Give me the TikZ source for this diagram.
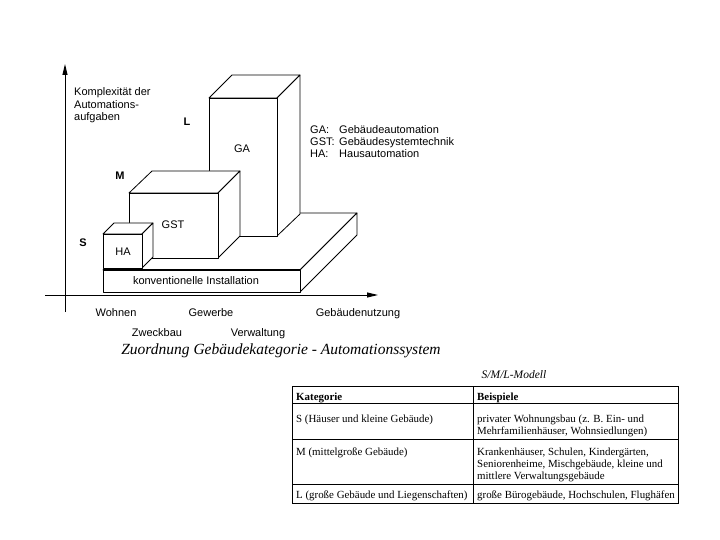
\documentclass[tikz,border=0pt]{standalone}
\usepackage{fontspec}
\setmainfont{Liberation Serif}
\setsansfont{Liberation Sans}
\usetikzlibrary{arrows.meta}
\begin{document}
\begin{tikzpicture}[x=1pt,y=-1pt,
  face/.style={draw=black,fill=white,line width=0.8pt,line join=round},
  axis/.style={draw=black,line width=1pt,-{Triangle[length=11pt,width=5pt]}},
  lbl/.style={font=\sffamily\fontsize{11}{12.5}\selectfont,inner sep=0pt},
  blbl/.style={font=\sffamily\bfseries\fontsize{11}{12.5}\selectfont,inner sep=0pt},
  tbl/.style={font=\fontsize{10.9}{12}\selectfont,inner sep=0pt,anchor=base west},
  tblb/.style={font=\bfseries\fontsize{10.9}{12}\selectfont,inner sep=0pt,anchor=base west},
  rule/.style={draw=black,line width=0.8pt}
]
\useasboundingbox (0,0) rectangle (720,540);

% axes
\draw[axis] (65,312) -- (65,64);
\draw[axis] (45,295) -- (378,295);

% platform
\draw[face] (103,270) -- (300,270) -- (357,213) -- (160,213) -- cycle;
\draw[face] (300,270) -- (357,213) -- (357,235) -- (300,292) -- cycle;
\draw[face] (103,270) rectangle (300,292);

% GA box
\draw[face] (209,98) -- (277,98) -- (300,75) -- (232,75) -- cycle;
\draw[face] (277,98) -- (300,75) -- (300,214) -- (277,236) -- cycle;
\draw[face] (209,98) rectangle (277,236);

% GST box
\draw[face] (129,193) -- (218,193) -- (240,171) -- (152,171) -- cycle;
\draw[face] (218,193) -- (240,171) -- (240,236) -- (218,258) -- cycle;
\draw[face] (129,193) rectangle (218,258);

% HA box
\draw[face] (103,234) -- (142,234) -- (153,223) -- (114,223) -- cycle;
\draw[face] (142,234) -- (153,223) -- (153,257) -- (142,268) -- cycle;
\draw[face] (103,234) rectangle (142,268);
\draw[line width=1.4pt] (103,269.5) -- (300,269.5);

% labels in the drawing
\node[lbl,anchor=base west] (k1) at (74,96) {Komplexität der};
\node[lbl,anchor=base west] (k2) at (74,108.5) {Automations-};
\node[lbl,anchor=base west] (k3) at (74,121) {aufgaben};

\node[blbl,anchor=base] (L) at (187,126) {L};
\node[blbl,anchor=base] (M) at (120,180) {M};
\node[blbl,anchor=base] (S) at (83,247) {S};

\node[lbl] (ga) at (242,149) {GA};
\node[lbl] (gst) at (173,225) {GST};
\node[lbl] (ha) at (123,252) {HA};
\node[lbl] (ki) at (196,281) {konventionelle Installation};

\node[lbl,anchor=base west] (g1) at (310,134) {GA:};
\node[lbl,anchor=base west] (g1t) at (339,134) {Gebäudeautomation};
\node[lbl,anchor=base west] (g2) at (310,146) {GST:};
\node[lbl,anchor=base west] (g2t) at (339,146) {Gebäudesystemtechnik};
\node[lbl,anchor=base west] (g3) at (310,158) {HA:};
\node[lbl,anchor=base west] (g3t) at (339,158) {Hausautomation};

\node[lbl,anchor=base] (wo) at (116,316) {Wohnen};
\node[lbl,anchor=base] (ge) at (211,316) {Gewerbe};
\node[lbl,anchor=base] (gn) at (358,316) {Gebäudenutzung};
\node[lbl,anchor=base] (zw) at (157,336) {Zweckbau};
\node[lbl,anchor=base] (ve) at (258,336) {Verwaltung};

\node[font=\itshape\fontsize{15.5}{17}\selectfont,inner sep=0pt,anchor=base] (cap) at (281,354) {Zuordnung Gebäudekategorie - Automationssystem};
\node[font=\itshape\fontsize{11.5}{13}\selectfont,inner sep=0pt,anchor=base] (sml) at (514,378) {S/M/L-Modell};

% table
\draw[rule] (292,386) rectangle (678,503);
\draw[rule] (292,403) -- (678,403);
\draw[rule] (292,439) -- (678,439);
\draw[rule] (292,484) -- (678,484);
\draw[rule] (473,386) -- (473,503);

\node[tblb] (h1) at (296,400) {Kategorie};
\node[tblb] (h2) at (477,400) {Beispiele};
\node[tbl] (s1) at (296,422) {S (Häuser und kleine Gebäude)};
\node[tbl] (s2) at (477,422) {privater Wohnungsbau (z. B. Ein- und};
\node[tbl] (s3) at (477,434) {Mehrfamilienhäuser, Wohnsiedlungen)};
\node[tbl] (m1) at (296,455) {M (mittelgroße Gebäude)};
\node[tbl] (m2) at (477,455) {Krankenhäuser, Schulen, Kindergärten,};
\node[tbl] (m3) at (477,467) {Seniorenheime, Mischgebäude, kleine und};
\node[tbl] (m4) at (477,479) {mittlere Verwaltungsgebäude};
\node[tbl] (l1) at (296,498) {L (große Gebäude und Liegenschaften)};
\node[tbl] (l2) at (477,498) {große Bürogebäude, Hochschulen, Flughäfen};
\end{tikzpicture}
\end{document}
